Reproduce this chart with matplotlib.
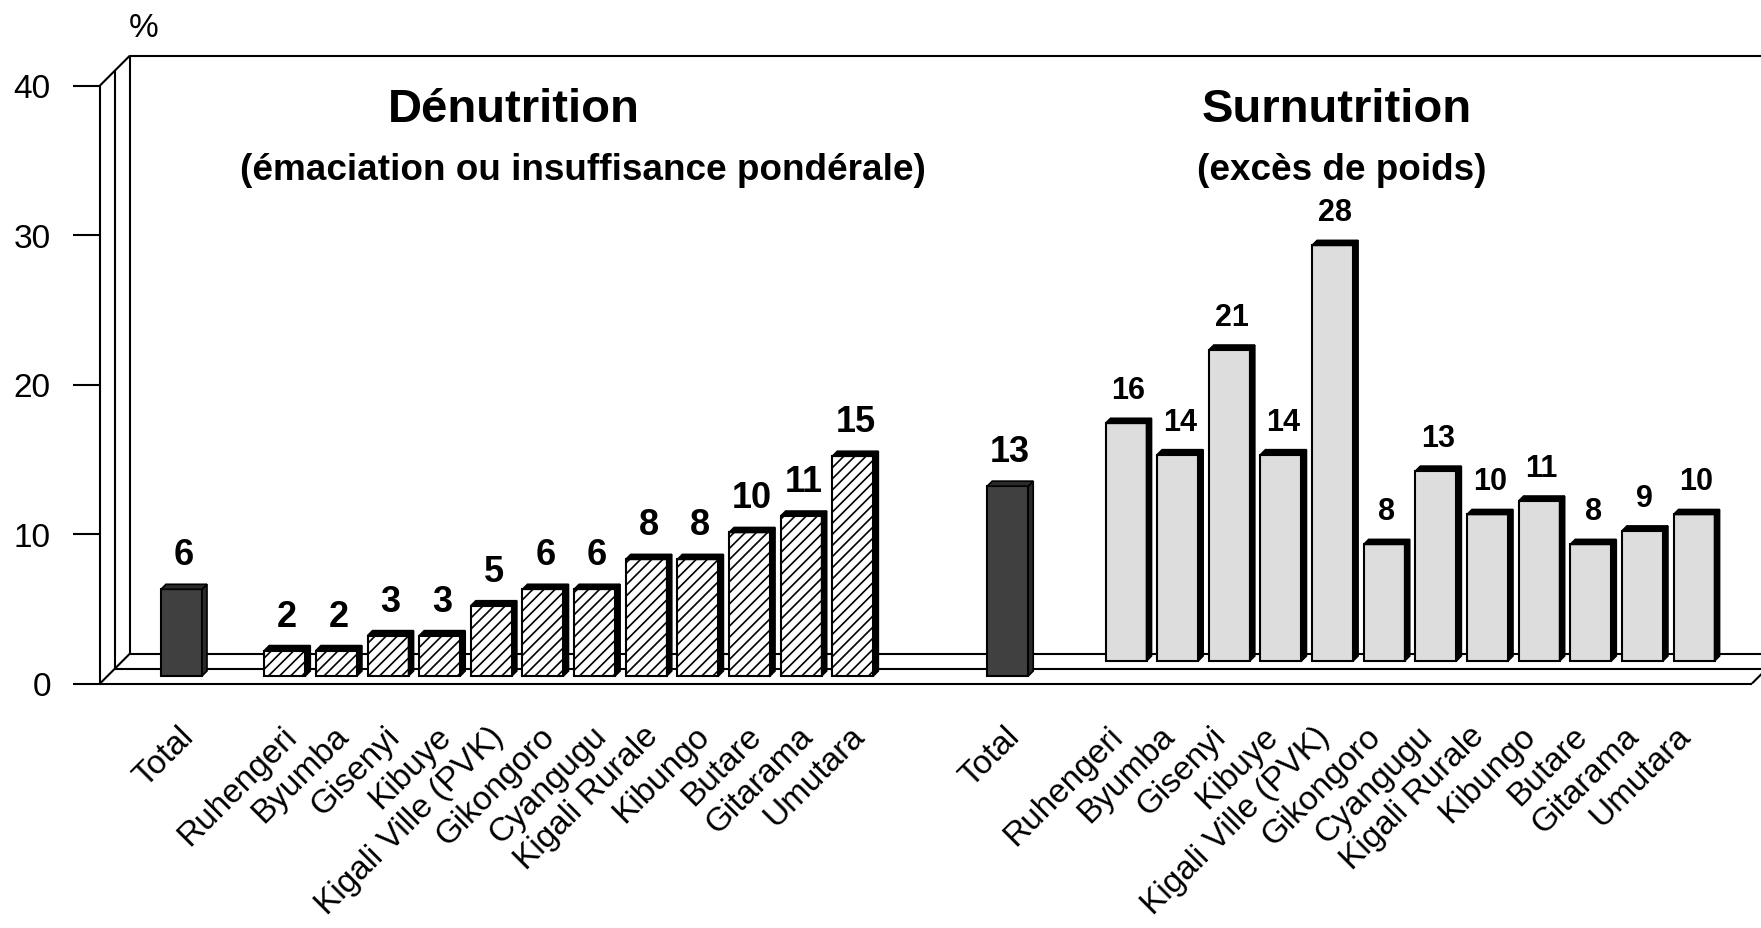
import matplotlib
matplotlib.use("Agg")
import matplotlib.pyplot as plt
from matplotlib.patches import Polygon

plt.rcParams['font.family'] = ['Liberation Sans', 'DejaVu Sans']
plt.rcParams['hatch.color'] = 'black'
plt.rcParams['hatch.linewidth'] = 1.2

# ---- data ----
regions = ["Ruhengeri", "Byumba", "Gisenyi", "Kibuye", "Kigali Ville (PVK)", "Gikongoro",
           "Cyangugu", "Kigali Rurale", "Kibungo", "Butare", "Gitarama", "Umutara"]
denut_total = 5.8
denut = [1.7, 1.7, 2.7, 2.7, 4.7, 5.8, 5.8, 7.8, 7.8, 9.6, 10.7, 14.7]
surnut_total = 12.7
surnut = [15.9, 13.8, 20.8, 13.8, 27.8, 7.8, 12.7, 9.8, 10.7, 7.8, 8.7, 9.8]
yticks = [0, 10, 20, 30, 40]

# ---- pixel geometry of the fake 3d frame ----
W, H = 1761, 929
X0, PITCH = 181.5, 51.64     # px of slot 0, px per slot
Y0, UNIT = 684.5, 14.95      # px of value 0, px per unit


def px_x(p):
    return (p - X0) / PITCH


def px_y(p):
    return (Y0 - p) / UNIT


def dx(p):
    return p / PITCH


def dy(p):
    return p / UNIT


fig = plt.figure(figsize=(W / 100, H / 100), dpi=100)
ax = fig.add_axes([0, 0, 1, 1])
ax.set_xlim(px_x(0), px_x(W))
ax.set_ylim(px_y(H), px_y(0))
for s in ['top', 'right', 'bottom']:
    ax.spines[s].set_visible(False)
ax.patch.set_visible(False)

# y axis on the front left edge
ax.spines['left'].set_position(('data', px_x(100)))
ax.spines['left'].set_bounds(0, 40)
ax.spines['left'].set_linewidth(1.5)
ax.set_yticks(yticks)
ax.set_xticks([])
ax.tick_params(axis='y', direction='out', length=19.4, width=1.5, pad=16, labelsize=24)

# floor slab and walls
lw = 1.5
k = dict(color='black', lw=lw, zorder=1, solid_capstyle='butt')
xl = px_x(100)
ax.plot([xl, px_x(1752)], [0, 0], **k)
ax.plot([px_x(1752), px_x(1752) + dx(30)], [0, dy(30)], **k)
ax.plot([xl + dx(15), px_x(1800)], [dy(15), dy(15)], **k)
ax.plot([xl + dx(30), px_x(1800)], [dy(30), dy(30)], **k)
ax.plot([xl, xl + dx(30)], [0, dy(30)], **k)
ax.plot([xl + dx(15), xl + dx(15)], [dy(15), 40 + dy(15)], **k)
ax.plot([xl + dx(30), xl + dx(30)], [dy(30), 40 + dy(30)], **k)
ax.plot([xl, xl + dx(30)], [40, 40 + dy(30)], **k)
ax.plot([xl + dx(30), px_x(1800)], [40 + dy(30), 40 + dy(30)], **k)

FACE_W = dx(41)
SIDE_X, SIDE_Y = dx(5), dy(5)


def draw_bars(xs, vals, base, color, hatch=None, side='black', size=26):
    ax.bar(xs, vals, width=FACE_W, bottom=base, color=color, edgecolor='black',
           linewidth=1.5, hatch=hatch, zorder=3)
    for x, v in zip(xs, vals):
        l, r = x - FACE_W / 2, x + FACE_W / 2
        b, t = base, base + v
        ax.add_patch(Polygon([(r, b), (r + SIDE_X, b + SIDE_Y), (r + SIDE_X, t + SIDE_Y), (r, t)],
                             closed=True, facecolor=side, edgecolor='black', lw=1.2, zorder=3))
        ax.add_patch(Polygon([(l, t), (l + SIDE_X, t + SIDE_Y), (r + SIDE_X, t + SIDE_Y), (r, t)],
                             closed=True, facecolor=side, edgecolor='black', lw=1.2, zorder=3))
        ax.annotate(f"{round(v)}", (x + SIDE_X / 2, t + SIDE_Y), xytext=(0, 14.4),
                    textcoords='offset points', ha='center', va='baseline',
                    fontsize=size, fontweight='bold', zorder=4)


front = dy(7.5)
back = dy(22.5)
shift = dx(15)

left_slots = [2 + i for i in range(len(regions))]
right_slots = [18 + i for i in range(len(regions))]

draw_bars([0], [denut_total], front, '#404040', side='#2a2a2a')
draw_bars(left_slots, denut, front, 'white', hatch='///')
draw_bars([16], [surnut_total], front, '#404040', side='#2a2a2a')
draw_bars([s + shift for s in right_slots], surnut, back, '#dddddd', size=22)

# category labels
lab_y = px_y(721)
for slot, name in [(0, "Total")] + list(zip(left_slots, regions)) + [(16, "Total")] + list(zip(right_slots, regions)):
    ax.text(slot - dx(4), lab_y, name, rotation=45, rotation_mode='anchor',
            ha='right', va='top', fontsize=24)

# titles
def fx(p):
    return p / W


def fy(p):
    return 1 - p / H


fig.text(fx(144), fy(37), "%", ha='center', va='baseline', fontsize=24)
fig.text(fx(514), fy(122), "Dénutrition", ha='center', va='baseline', fontsize=34, fontweight='bold')
fig.text(fx(583), fy(180), "(émaciation ou insuffisance pondérale)", ha='center', va='baseline',
         fontsize=26.6, fontweight='bold')
fig.text(fx(1337), fy(122), "Surnutrition", ha='center', va='baseline', fontsize=34, fontweight='bold')
fig.text(fx(1342), fy(180), "(excès de poids)", ha='center', va='baseline',
         fontsize=26.6, fontweight='bold')

fig.savefig("out.png", dpi=100)
